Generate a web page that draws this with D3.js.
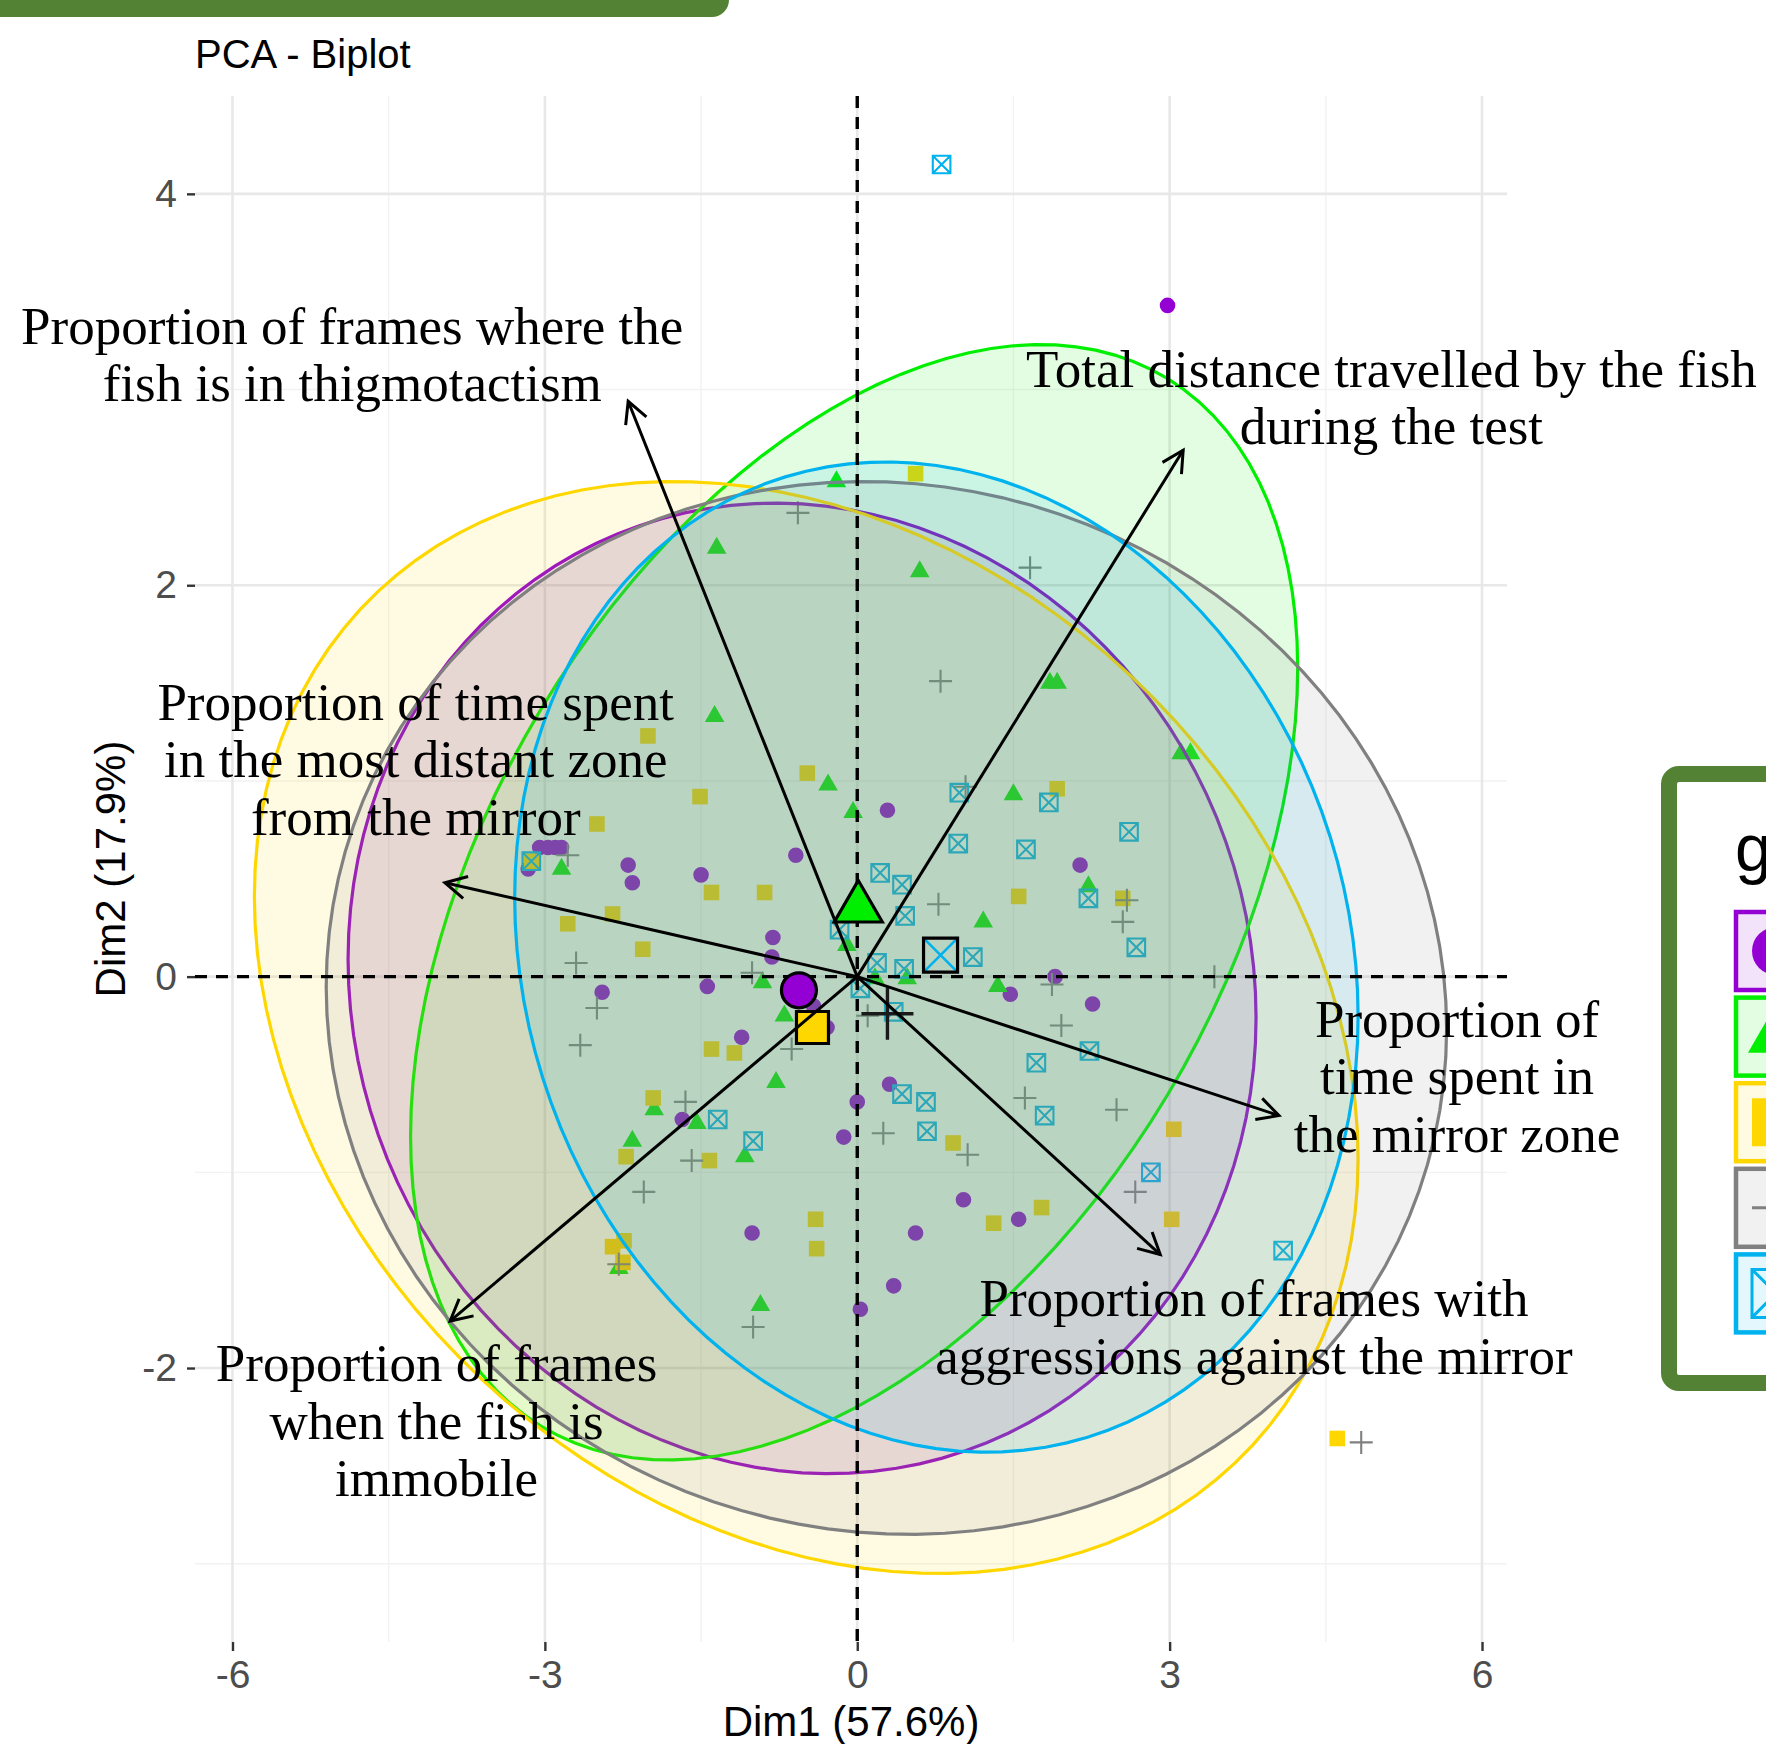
<!DOCTYPE html>
<html lang="en">
<head>
  <meta charset="UTF-8">
  <title>PCA - Biplot</title>
  <style>
    * {
      margin: 0;
      padding: 0;
    }
    body { background: #fff; }
    svg { display: block; }
  </style>
</head>
<body>
  <script src="https://d3js.org/d3.v7.min.js"></script>
  <script>
    const width = 1766;
    const height = 1744;
    const panel = { left: 195, right: 1507, top: 96, bottom: 1642 };

    // groups: purple, green, yellow, grey, blue
    const groupColors = ['#9400D3', '#00EE00', '#FFD700', '#808080', '#00B2EE'];
    const groupShapes = ['circle', 'triangle', 'square', 'plus', 'boxx'];

    const purplePts = [[0.29,0.85],[-0.59,0.62],[-3.05,0.66],[-2.97,0.66],[-2.90,0.66],[-2.84,0.66],[-3.16,0.55],[-2.20,0.57],[-2.16,0.48],[-1.50,0.52],[-0.81,0.20],[-0.82,0.10],[-2.45,-0.08],[-1.44,-0.05],[-0.42,-0.15],[-0.29,-0.26],[-1.11,-0.31],[0.31,-0.55],[0.00,-0.64],[-1.68,-0.73],[-0.13,-0.82],[1.02,-1.14],[-1.01,-1.31],[0.56,-1.31],[0.35,-1.58],[0.03,-1.70],[2.14,0.57],[1.47,-0.09],[1.90,0.00],[2.26,-0.14],[1.55,-1.24],[2.98,3.43]];
    const greenPts = [[-0.20,2.53],[-1.35,2.19],[0.60,2.07],[1.85,1.50],[1.92,1.50],[-1.37,1.33],[3.11,1.14],[3.20,1.14],[-0.28,0.98],[-0.04,0.84],[1.50,0.93],[2.22,0.46],[1.21,0.28],[-0.10,0.16],[0.17,-0.01],[0.48,-0.01],[-0.91,-0.03],[1.35,-0.05],[-2.84,0.55],[-0.70,-0.20],[-0.78,-0.54],[-1.95,-0.68],[-1.54,-0.75],[-2.16,-0.84],[-1.08,-0.92],[-0.93,-1.68],[-2.29,-1.49]];
    const yellowPts = [[0.56,2.57],[-2.01,1.23],[-0.48,1.04],[-1.51,0.92],[-2.50,0.78],[1.92,0.96],[1.55,0.41],[2.55,0.40],[-1.40,0.43],[-0.89,0.43],[-2.35,0.32],[-2.78,0.27],[-2.06,0.14],[-3.13,0.59],[-1.40,-0.37],[-1.18,-0.39],[-1.96,-0.62],[-2.22,-0.92],[-1.42,-0.94],[0.92,-0.85],[3.04,-0.78],[-0.40,-1.24],[-0.39,-1.39],[1.31,-1.26],[1.77,-1.18],[3.02,-1.24],[-2.35,-1.38],[-2.24,-1.35],[-2.25,-1.46],[4.61,-2.36]];
    const greyPts = [[-0.57,2.37],[1.66,2.09],[0.80,1.51],[1.04,0.97],[0.78,0.37],[2.59,0.39],[2.55,0.28],[-2.78,0.62],[-2.70,0.07],[-1.01,0.02],[-2.50,-0.16],[0.10,-0.20],[-2.66,-0.35],[-0.63,-0.37],[1.87,-0.04],[3.43,0.00],[1.96,-0.25],[-1.65,-0.64],[0.25,-0.80],[1.06,-0.91],[1.61,-0.62],[2.49,-0.68],[2.67,-1.10],[-1.59,-0.94],[-2.05,-1.10],[-2.29,-1.47],[-1.00,-1.79],[4.84,-2.38]];
    const bluePts = [[0.81,4.15],[0.98,0.94],[1.84,0.89],[2.61,0.74],[0.97,0.68],[1.62,0.65],[2.22,0.40],[0.22,0.53],[0.43,0.47],[0.46,0.31],[-0.17,0.24],[2.68,0.15],[1.11,0.10],[0.19,0.07],[0.45,0.04],[0.03,-0.06],[0.35,-0.18],[1.72,-0.44],[2.23,-0.38],[0.43,-0.60],[0.66,-0.64],[1.80,-0.71],[-1.34,-0.73],[0.67,-0.79],[-1.00,-0.84],[2.82,-1.00],[4.09,-1.40],[-3.13,0.59]];
    const groupPts = [purplePts, greenPts, yellowPts, greyPts, bluePts];

    // group means
    const meanX = [-0.56, 0.01, -0.43, 0.29, 0.80];
    const meanY = [-0.07, 0.35, -0.26, -0.19, 0.11];

    // concentration ellipses: centre, half width, half height, tilt (cos of phase)
    const ellCx = [-0.53, -0.03, -0.49, 0.28, 0.76];
    const ellCy = [-0.06, 0.38, -0.26, -0.16, 0.10];
    const ellW = [4.36, 4.26, 5.30, 5.38, 4.05];
    const ellH = [2.48, 2.85, 2.79, 2.69, 2.53];
    const ellCos = [-0.06, 0.42, -0.24, -0.04, -0.12];

    // variables
    const varTipX = [-2.20, 3.13, -3.96, 4.05, 2.91, -3.91];
    const varTipY = [2.94, 2.69, 0.48, -0.71, -1.42, -1.76];
    const labelX = [-4.85, 5.13, -4.24, 5.76, 3.81, -4.04];
    const labelY = [3.17, 2.95, 1.10, -0.52, -1.80, -2.28];
    const varLabels = [
      ['Proportion of frames where the', 'fish is in thigmotactism'],
      ['Total distance travelled by the fish', 'during the test'],
      ['Proportion of time spent', 'in the most distant zone', 'from the mirror'],
      ['Proportion of', 'time spent in', 'the mirror zone'],
      ['Proportion of frames with', 'aggressions against the mirror'],
      ['Proportion of frames', 'when the fish is', 'immobile'],
    ];

    const xTicks = [-6, -3, 0, 3, 6];
    const xMinor = [-4.5, -1.5, 1.5, 4.5];
    const yTicks = [-2, 0, 2, 4];
    const yMinor = [-3, -1, 1, 3];

    const sans = "'Liberation Sans', Arial, sans-serif";
    const serif = "'Liberation Serif', 'Times New Roman', serif";

    const x = d3.scaleLinear().domain([-6.36, 6.24]).range([panel.left, panel.right]);
    const y = d3.scaleLinear().domain([-3.40, 4.50]).range([panel.bottom, panel.top]);

    const svg = d3.select('body')
      .append('svg')
      .attr('width', width)
      .attr('height', height);

    svg.append('defs').append('clipPath')
      .attr('id', 'panel-clip')
      .append('rect')
      .attr('x', panel.left)
      .attr('y', panel.top)
      .attr('width', panel.right - panel.left)
      .attr('height', panel.bottom - panel.top);

    // green bar at the top
    svg.append('path')
      .attr('d', 'M0,0 H729 A17,17 0 0 1 712,17 H0 Z')
      .attr('fill', '#548235');

    // grid
    const grid = svg.append('g');
    grid.selectAll('.vmin').data(xMinor).enter().append('line')
      .attr('x1', d => x(d)).attr('x2', d => x(d))
      .attr('y1', panel.top).attr('y2', panel.bottom)
      .attr('stroke', '#F2F2F2').attr('stroke-width', 1.4);
    grid.selectAll('.hmin').data(yMinor).enter().append('line')
      .attr('y1', d => y(d)).attr('y2', d => y(d))
      .attr('x1', panel.left).attr('x2', panel.right)
      .attr('stroke', '#F2F2F2').attr('stroke-width', 1.4);
    grid.selectAll('.vmaj').data(xTicks).enter().append('line')
      .attr('x1', d => x(d)).attr('x2', d => x(d))
      .attr('y1', panel.top).attr('y2', panel.bottom)
      .attr('stroke', '#E8E8E8').attr('stroke-width', 2.6);
    grid.selectAll('.hmaj').data(yTicks).enter().append('line')
      .attr('y1', d => y(d)).attr('y2', d => y(d))
      .attr('x1', panel.left).attr('x2', panel.right)
      .attr('stroke', '#E8E8E8').attr('stroke-width', 2.6);

    const shapePath = (shape, s) => {
      if (shape === 'triangle') {
        const h = s * Math.sqrt(3);
        return `M0,${-h * 2 / 3}L${s},${h / 3}L${-s},${h / 3}Z`;
      }
      if (shape === 'square') return `M${-s},${-s}H${s}V${s}H${-s}Z`;
      if (shape === 'plus') return `M${-s},0H${s}M0,${-s}V${s}`;
      if (shape === 'boxx') return `M${-s},${-s}H${s}V${s}H${-s}ZM${-s},${-s}L${s},${s}M${s},${-s}L${-s},${s}`;
      return d3.symbol(d3.symbolCircle, Math.PI * s * s)();
    };
    const smallSize = { circle: 7.8, triangle: 9.8, square: 7.8, plus: 11.5, boxx: 8.8 };

    const drawShape = (g, shape, s, color) => {
      const p = g.append('path').attr('d', shapePath(shape, s));
      if (shape === 'plus' || shape === 'boxx') {
        p.attr('fill', 'none').attr('stroke', color).attr('stroke-width', 2.1);
      } else {
        p.attr('fill', color);
      }
      return p;
    };

    // individual points
    const pointsG = svg.append('g').attr('clip-path', 'url(#panel-clip)');
    groupPts.forEach((pts, gi) => {
      pts.forEach(d => {
        const g = pointsG.append('g').attr('transform', `translate(${x(d[0])},${y(d[1])})`);
        drawShape(g, groupShapes[gi], smallSize[groupShapes[gi]], groupColors[gi]);
      });
    });

    // ellipses
    const ellLine = d3.line().curve(d3.curveLinearClosed);
    const ellG = svg.append('g').attr('clip-path', 'url(#panel-clip)');
    ellCx.forEach((cx, i) => {
      const phi = Math.acos(ellCos[i]);
      const pts = d3.range(0, 120).map(k => {
        const t = k / 120 * 2 * Math.PI;
        return [x(cx + ellW[i] * Math.cos(t)), y(ellCy[i] + ellH[i] * Math.cos(t - phi))];
      });
      ellG.append('path')
        .attr('d', ellLine(pts))
        .attr('fill', groupColors[i])
        .attr('fill-opacity', 0.11)
        .attr('stroke', groupColors[i])
        .attr('stroke-width', 3.2);
    });

    // reference lines
    svg.append('line')
      .attr('x1', panel.left).attr('x2', panel.right)
      .attr('y1', y(0)).attr('y2', y(0))
      .attr('stroke', '#000').attr('stroke-width', 3.4).attr('stroke-dasharray', '12,9');
    svg.append('line')
      .attr('x1', x(0)).attr('x2', x(0))
      .attr('y1', panel.top).attr('y2', panel.bottom)
      .attr('stroke', '#000').attr('stroke-width', 3.4).attr('stroke-dasharray', '12,9');

    // group means
    const meanG = svg.append('g');
    meanX.forEach((mx, i) => {
      const g = meanG.append('g').attr('transform', `translate(${x(mx)},${y(meanY[i])})`);
      const shape = groupShapes[i];
      if (shape === 'plus') {
        g.append('path').attr('d', shapePath('plus', 26))
          .attr('stroke', '#1a1a1a').attr('stroke-width', 3.4).attr('fill', 'none');
      } else if (shape === 'boxx') {
        g.append('path').attr('d', `M-17,-17L17,17M17,-17L-17,17`)
          .attr('stroke', groupColors[i]).attr('stroke-width', 2.6);
        g.append('path').attr('d', shapePath('square', 17))
          .attr('fill', 'none').attr('stroke', '#000').attr('stroke-width', 3.2);
      } else {
        const s = shape === 'triangle' ? 24 : (shape === 'square' ? 16 : 17.5);
        g.append('path').attr('d', shapePath(shape, s))
          .attr('fill', groupColors[i]).attr('stroke', '#000')
          .attr('stroke-width', 3.2).attr('stroke-linejoin', 'miter');
      }
    });

    // variable arrows
    const arrowG = svg.append('g').attr('stroke', '#000').attr('fill', 'none').attr('stroke-width', 3);
    varTipX.forEach((tx, i) => {
      const x0 = x(0), y0 = y(0), x1 = x(tx), y1 = y(varTipY[i]);
      const ang = Math.atan2(y1 - y0, x1 - x0);
      const len = 24, spread = Math.PI / 6.5;
      arrowG.append('line').attr('x1', x0).attr('y1', y0).attr('x2', x1).attr('y2', y1);
      arrowG.append('path')
        .attr('d', `M${x1 - len * Math.cos(ang - spread)},${y1 - len * Math.sin(ang - spread)}L${x1},${y1}L${x1 - len * Math.cos(ang + spread)},${y1 - len * Math.sin(ang + spread)}`);
    });

    // variable labels
    const labelG = svg.append('g')
      .attr('font-family', serif)
      .attr('font-size', 53)
      .attr('text-anchor', 'middle')
      .attr('fill', '#000');
    varLabels.forEach((lines, i) => {
      const cx = x(labelX[i]), cy = y(labelY[i]);
      const t = labelG.append('text');
      lines.forEach((ln, j) => {
        t.append('tspan')
          .attr('x', cx)
          .attr('y', cy + (j - (lines.length - 1) / 2) * 57.5 + 16)
          .text(ln);
      });
    });

    // axes
    const styleAxis = g => {
      g.select('.domain').remove();
      g.selectAll('line').attr('stroke', '#333').attr('stroke-width', 2.4);
      g.selectAll('text').attr('fill', '#4D4D4D').attr('font-size', 39).attr('font-family', sans);
    };
    svg.append('g')
      .attr('transform', `translate(0,${panel.bottom})`)
      .call(d3.axisBottom(x).tickValues(xTicks).tickFormat(d => String(d)).tickSize(9).tickPadding(9))
      .call(styleAxis);
    svg.append('g')
      .attr('transform', `translate(${panel.left},0)`)
      .call(d3.axisLeft(y).tickValues(yTicks).tickFormat(d => String(d)).tickSize(8).tickPadding(10))
      .call(styleAxis);

    svg.append('text')
      .attr('x', (panel.left + panel.right) / 2)
      .attr('y', 1736)
      .attr('text-anchor', 'middle')
      .attr('font-family', sans)
      .attr('font-size', 42)
      .text('Dim1 (57.6%)');
    svg.append('text')
      .attr('transform', `translate(125,${(panel.top + panel.bottom) / 2}) rotate(-90)`)
      .attr('text-anchor', 'middle')
      .attr('font-family', sans)
      .attr('font-size', 42)
      .text('Dim2 (17.9%)');

    svg.append('text')
      .attr('x', panel.left)
      .attr('y', 68)
      .attr('font-family', sans)
      .attr('font-size', 40)
      .text('PCA - Biplot');

    // legend (cut by the right edge, as in the source figure)
    const legend = svg.append('g');
    legend.append('rect')
      .attr('x', 1669).attr('y', 774)
      .attr('width', 200).attr('height', 609)
      .attr('rx', 10)
      .attr('fill', '#fff')
      .attr('stroke', '#548235')
      .attr('stroke-width', 16);
    legend.append('text')
      .attr('x', 1735).attr('y', 871)
      .attr('font-family', sans)
      .attr('font-size', 66)
      .text('group');
    groupColors.forEach((c, i) => {
      const top = 910 + i * 85.6;
      legend.append('rect')
        .attr('x', 1736).attr('y', top + 2)
        .attr('width', 80).attr('height', 78)
        .attr('fill', '#fff');
      legend.append('rect')
        .attr('x', 1736).attr('y', top + 2)
        .attr('width', 80).attr('height', 78)
        .attr('fill', c).attr('fill-opacity', 0.11)
        .attr('stroke', c).attr('stroke-width', 4.5);
      const g = legend.append('g').attr('transform', `translate(1776,${top + 41})`);
      const shape = groupShapes[i];
      if (shape === 'plus' || shape === 'boxx') {
        g.append('path').attr('d', shapePath(shape, 24))
          .attr('fill', 'none').attr('stroke', c).attr('stroke-width', 3);
      } else {
        g.append('path').attr('d', shapePath(shape, shape === 'triangle' ? 28 : 24)).attr('fill', c);
      }
    });
  </script>
</body>
</html>
